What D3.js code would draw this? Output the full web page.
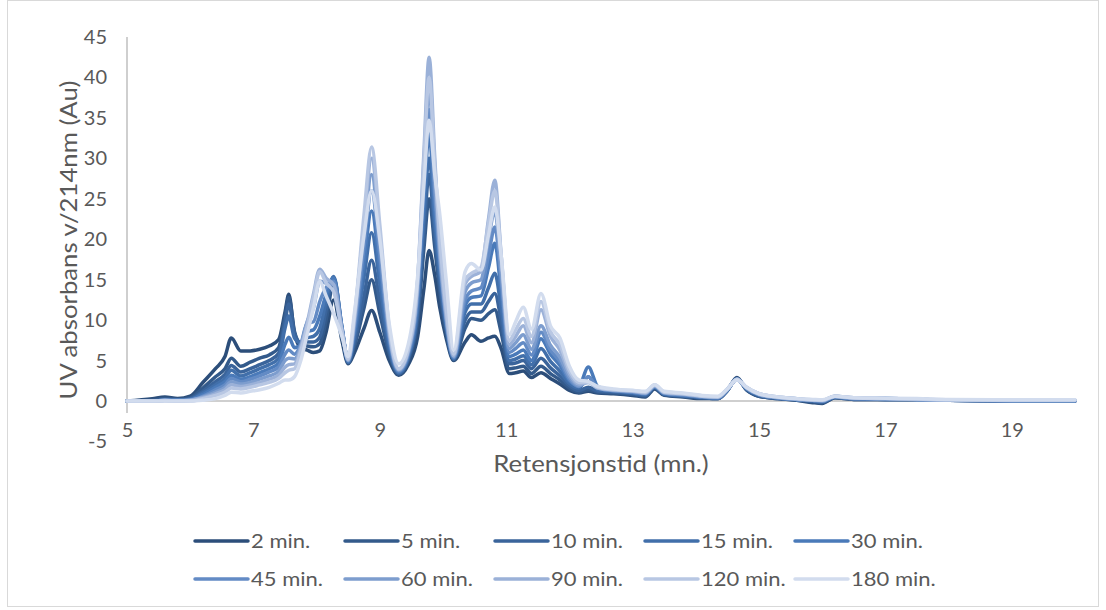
<!DOCTYPE html>
<html>
<head>
<meta charset="utf-8">
<script src="https://cdn.jsdelivr.net/npm/d3@7"></script>
<style>
  html, body { margin: 0; padding: 0; background: #ffffff; }
  svg { display: block; }
  text { font-family: Lato, "Open Sans", sans-serif; fill: #595959; }
</style>
</head>
<body>
<svg id="chart" width="1106" height="610"></svg>
<script>
// Retention times (minutes) shared by every chromatogram trace
const retention = [
  5.0, 5.4, 5.6, 5.8, 6.0, 6.2, 6.4, 6.55, 6.65, 6.8,
  6.95, 7.1, 7.25, 7.4, 7.5, 7.56, 7.65, 7.75, 7.85, 7.95,
  8.05, 8.15, 8.27, 8.4, 8.5, 8.6, 8.75, 8.87, 9.0, 9.15,
  9.3, 9.45, 9.6, 9.7, 9.78, 9.87, 9.95, 10.05, 10.17, 10.35,
  10.45, 10.6, 10.72, 10.82, 10.92, 11.05, 11.15, 11.27, 11.4, 11.55,
  11.7, 11.85, 12.0, 12.15, 12.3, 12.45, 12.7, 13.0, 13.2, 13.35,
  13.5, 13.8, 14.1, 14.35, 14.5, 14.65, 14.8, 15.0, 15.3, 15.6,
  15.85, 16.0, 16.2, 16.5, 17.0, 17.5, 18.0, 19.0, 20.0
];

// UV absorbance at 214 nm for each hydrolysis time
const min2 = [
  0, 0.3, 0.5, 0.3, 0.6, 2.3, 4.0, 5.5, 7.8, 6.2,
  6.2, 6.4, 6.8, 7.6, 11.0, 13.2, 8.3, 6.6, 6.3, 6.0,
  6.2, 8.5, 12.5, 7.5, 4.6, 6.0, 9.0, 11.2, 8.5, 5.0,
  3.2, 4.5, 8.0, 14.0, 18.6, 15.5, 11.5, 7.8, 5.0, 7.3,
  8.2, 7.4, 7.8, 8.0, 6.5, 3.4, 3.5, 3.7, 2.9, 3.5,
  2.8, 2.1, 1.3, 1.0, 1.2, 1.0, 0.9, 0.7, 0.5, 1.5,
  0.7, 0.5, 0.3, 0.3, 1.3, 2.9, 1.4, 0.6, 0.3, 0.1,
  -0.2, -0.3, 0.4, 0.2, 0.2, 0.2, 0.1, 0.0, 0.0
];
const min5 = [
  0, 0.1, 0.3, 0.2, 0.4, 1.6, 3.0, 4.0, 5.3, 4.3,
  4.8, 5.3, 5.7, 6.6, 10.5, 12.8, 8.6, 7.0, 6.8, 6.7,
  7.1, 10.0, 14.6, 8.5, 4.7, 6.8, 11.5, 15.0, 10.8, 5.8,
  3.3, 5.0, 10.0, 19.0, 25.0, 19.0, 13.5, 8.5, 5.1, 9.0,
  10.2, 10.0, 10.8, 11.3, 8.5, 4.0, 4.1, 4.3, 3.4, 4.3,
  3.4, 2.6, 1.6, 1.1, 1.4, 1.1, 1.0, 0.8, 0.6, 1.6,
  0.8, 0.6, 0.4, 0.3, 1.3, 2.8, 1.4, 0.6, 0.3, 0.1,
  -0.1, -0.2, 0.4, 0.2, 0.2, 0.2, 0.1, 0.0, 0.0
];
const min10 = [
  0, 0, 0.2, 0.1, 0.3, 1.2, 2.4, 3.3, 4.4, 3.6,
  4.0, 4.5, 5.0, 5.9, 9.8, 12.0, 8.4, 7.2, 7.3, 7.3,
  7.9, 11.2, 15.3, 9.0, 4.8, 7.3, 13.0, 17.4, 12.3, 6.2,
  3.4, 5.2, 11.0, 21.0, 28.0, 20.5, 14.5, 9.0, 5.2, 10.0,
  11.0, 11.0, 12.3, 13.3, 10.0, 4.6, 4.7, 5.0, 4.0, 5.3,
  4.1, 3.1, 1.9, 1.3, 1.7, 1.2, 1.1, 0.9, 0.7, 1.7,
  0.8, 0.6, 0.4, 0.3, 1.3, 2.8, 1.5, 0.7, 0.3, 0.2,
  0.0, -0.1, 0.5, 0.3, 0.2, 0.2, 0.1, 0.0, 0.0
];
const min15 = [
  0, 0, 0.1, 0.1, 0.2, 1.0, 2.0, 2.8, 3.8, 3.1,
  3.5, 4.0, 4.5, 5.3, 9.0, 10.5, 7.8, 7.2, 7.8, 8.0,
  9.0, 12.3, 15.4, 9.2, 4.8, 8.0, 15.3, 20.8, 14.5, 6.8,
  3.5, 5.4, 11.5, 23.0, 30.0, 22.0, 15.5, 9.3, 5.2, 11.0,
  12.0, 12.0, 14.0, 15.8, 11.5, 5.0, 5.2, 5.6, 4.5, 6.5,
  4.9, 3.7, 2.2, 1.6, 3.0, 1.4, 1.2, 1.0, 0.8, 1.7,
  0.9, 0.7, 0.5, 0.4, 1.4, 2.7, 1.5, 0.7, 0.4, 0.2,
  0.0, -0.1, 0.5, 0.3, 0.2, 0.2, 0.1, 0.05, 0.05
];
const min30 = [
  0, 0, 0.1, 0.1, 0.2, 0.8, 1.7, 2.4, 3.2, 2.7,
  3.0, 3.5, 4.0, 4.7, 7.0, 7.9, 6.6, 7.0, 8.6, 8.8,
  10.5, 13.2, 15.2, 9.2, 4.9, 8.6, 17.2, 23.5, 16.3, 7.3,
  3.6, 5.6, 12.5, 25.0, 33.0, 23.5, 16.5, 9.6, 5.3, 11.8,
  12.8, 13.0, 16.5, 19.5, 13.5, 5.5, 5.8, 6.3, 5.0, 7.7,
  5.8, 4.4, 2.5, 1.9, 4.2, 1.8, 1.3, 1.1, 0.9, 1.8,
  0.9, 0.7, 0.5, 0.4, 1.4, 2.7, 1.6, 0.8, 0.4, 0.2,
  0.1, 0.0, 0.5, 0.3, 0.3, 0.2, 0.1, 0.05, 0.05
];
const min45 = [
  0, 0, 0.1, 0.1, 0.1, 0.6, 1.4, 2.0, 2.8, 2.4,
  2.7, 3.1, 3.6, 4.2, 5.8, 6.3, 5.8, 7.0, 9.6, 9.8,
  12.3, 14.0, 14.8, 9.0, 5.0, 9.2, 19.0, 26.0, 18.0, 7.8,
  3.7, 5.8, 13.5, 27.0, 36.0, 25.5, 17.5, 10.0, 5.4, 12.5,
  13.6, 14.0, 18.0, 21.5, 15.0, 6.0, 6.5, 7.2, 5.7, 8.5,
  6.3, 4.9, 2.7, 1.8, 3.0, 1.6, 1.3, 1.1, 0.9, 1.8,
  1.0, 0.8, 0.5, 0.4, 1.4, 2.7, 1.6, 0.8, 0.4, 0.2,
  0.1, 0.0, 0.5, 0.3, 0.3, 0.2, 0.1, 0.05, 0.05
];
const min60 = [
  0, 0, 0.1, 0, 0.1, 0.5, 1.1, 1.7, 2.4, 2.1,
  2.3, 2.7, 3.1, 3.7, 5.0, 5.3, 5.2, 6.8, 9.8, 11.5,
  14.8, 14.6, 14.4, 8.8, 5.0, 9.7, 20.5, 28.0, 19.4, 8.2,
  3.8, 6.0, 14.0, 29.0, 38.5, 27.0, 18.0, 10.3, 5.5, 13.5,
  14.6, 15.0, 20.0, 23.5, 16.0, 6.5, 7.2, 8.2, 6.4, 9.3,
  6.9, 5.4, 3.0, 1.9, 2.4, 1.6, 1.3, 1.2, 1.0, 1.9,
  1.0, 0.8, 0.6, 0.5, 1.4, 2.7, 1.6, 0.8, 0.4, 0.2,
  0.1, 0.0, 0.6, 0.3, 0.3, 0.2, 0.1, 0.05, 0.05
];
const min90 = [
  0, 0, 0.1, 0, 0.1, 0.4, 0.9, 1.4, 2.0, 1.8,
  2.0, 2.3, 2.7, 3.2, 4.2, 4.5, 4.6, 6.6, 9.6, 13.2,
  16.3, 15.2, 14.4, 8.8, 5.1, 10.2, 22.0, 30.0, 20.8, 8.6,
  3.9, 6.2, 15.0, 31.0, 42.5, 30.0, 19.0, 10.6, 5.6, 14.5,
  15.4, 16.0, 22.5, 27.3, 18.0, 7.0, 8.0, 9.3, 7.2, 11.3,
  8.0, 6.3, 3.4, 2.1, 2.3, 1.6, 1.4, 1.2, 1.0, 1.9,
  1.1, 0.9, 0.6, 0.5, 1.5, 2.7, 1.7, 0.9, 0.5, 0.3,
  0.1, 0.1, 0.6, 0.4, 0.3, 0.2, 0.15, 0.1, 0.1
];
const min120 = [
  0, 0, 0, 0, 0, 0.3, 0.7, 1.1, 1.6, 1.5,
  1.7, 2.0, 2.3, 2.8, 3.5, 3.8, 4.0, 6.2, 9.2, 12.8,
  16.0, 14.6, 13.5, 8.6, 5.2, 10.5, 23.0, 31.4, 21.8, 9.0,
  4.0, 6.4, 15.0, 30.0, 40.0, 29.0, 20.0, 11.5, 5.8, 15.0,
  15.8, 16.5, 22.0, 26.0, 18.0, 7.5, 8.8, 10.2, 8.0, 12.3,
  8.6, 7.0, 3.8, 2.3, 2.3, 1.7, 1.4, 1.3, 1.1, 2.0,
  1.1, 0.9, 0.6, 0.5, 1.5, 2.7, 1.7, 0.9, 0.5, 0.3,
  0.15, 0.1, 0.6, 0.4, 0.3, 0.25, 0.15, 0.1, 0.1
];
const min180 = [
  0, 0, 0, 0, 0, 0.1, 0.3, 0.7, 1.1, 1.0,
  1.2, 1.4, 1.7, 2.2, 2.6, 2.6, 3.0, 5.0, 8.2, 11.5,
  14.8, 13.0, 10.8, 8.0, 5.5, 11.0, 20.5, 26.0, 20.0, 9.5,
  4.6, 7.0, 15.5, 27.0, 34.7, 28.0, 23.0, 15.0, 6.3, 16.0,
  17.0, 16.2, 20.5, 24.0, 18.0, 8.2, 9.8, 11.6, 8.9, 13.3,
  9.3, 7.8, 4.3, 2.6, 2.4, 1.8, 1.5, 1.3, 1.2, 2.0,
  1.2, 1.0, 0.7, 0.6, 1.5, 2.6, 1.7, 0.9, 0.5, 0.3,
  0.2, 0.15, 0.6, 0.4, 0.35, 0.3, 0.2, 0.15, 0.15
];

const seriesNames = ["2 min.", "5 min.", "10 min.", "15 min.", "30 min.",
                     "45 min.", "60 min.", "90 min.", "120 min.", "180 min."];
const seriesValues = [min2, min5, min10, min15, min30, min45, min60, min90, min120, min180];
const seriesColors = ["#2c4e7a", "#335a8b", "#3a649b", "#416faa", "#4a7ab9",
                      "#638bc5", "#7d9dce", "#9bb1d8", "#b8c7e3", "#d2dcee"];

const xTicks = [5, 7, 9, 11, 13, 15, 17, 19];
const yTicks = [-5, 0, 5, 10, 15, 20, 25, 30, 35, 40, 45];

const svg = d3.select("#chart");

const x = d3.scaleLinear().domain([5, 20]).range([127, 1075]);
const y = d3.scaleLinear().domain([-5, 45]).range([441.5, 37]);

// chart-area frame
svg.append("rect")
  .attr("x", 7.5).attr("y", 0.5)
  .attr("width", 1091).attr("height", 606)
  .attr("fill", "none").attr("stroke", "#d9d9d9").attr("stroke-width", 1);

// value axis (left); plain hyphen for negative labels
const yAxis = d3.axisLeft(y).tickValues(yTicks).tickSize(0).tickPadding(20)
  .tickFormat(d => String(d));
const gy = svg.append("g").attr("transform", "translate(127,0)").call(yAxis);
gy.select(".domain").remove();
gy.selectAll("text").style("font-size", "20px").attr("font-family", null).attr("fill", "#595959");
svg.append("line")
  .attr("x1", 127).attr("x2", 127)
  .attr("y1", y(45)).attr("y2", y(0) + 12)
  .attr("stroke", "#bfbfbf").attr("stroke-width", 1.5);

// time axis, crossing at zero
const xAxis = d3.axisBottom(x).tickValues(xTicks).tickSize(0).tickPadding(22)
  .tickFormat(d => String(d));
const gx = svg.append("g").attr("transform", `translate(0,${y(0)})`).call(xAxis);
gx.select(".domain").remove();
gx.selectAll("text").style("font-size", "20px").attr("font-family", null).attr("fill", "#595959");
svg.append("line")
  .attr("x1", x(5)).attr("x2", x(20))
  .attr("y1", y(0)).attr("y2", y(0))
  .attr("stroke", "#bfbfbf").attr("stroke-width", 1.5);

// axis titles (slightly widened lettering)
svg.append("text")
  .attr("transform", `translate(${x(12.5)},472) scale(1.12,1)`)
  .attr("text-anchor", "middle")
  .style("font-size", "23px")
  .text("Retensjonstid (mn.)");
svg.append("text")
  .attr("transform", `translate(77,240) rotate(-90) scale(1.12,1)`)
  .attr("text-anchor", "middle")
  .style("font-size", "23px")
  .text("UV absorbans v/214nm (Au)");

// traces
const line = d3.line()
  .x(d => x(d[0]))
  .y(d => y(d[1]))
  .curve(d3.curveMonotoneX);

seriesValues.forEach((vals, i) => {
  svg.append("path")
    .datum(retention.map((t, k) => [t, vals[k]]))
    .attr("fill", "none")
    .attr("stroke", seriesColors[i])
    .attr("stroke-width", 3.5)
    .attr("stroke-linejoin", "round")
    .attr("stroke-linecap", "round")
    .attr("d", line);
});

// legend: two rows of five
const legend = svg.append("g");
seriesNames.forEach((name, i) => {
  const col = i % 5, row = Math.floor(i / 5);
  const lx = 195 + col * 150;
  const ly = 541 + row * 38;
  const g = legend.append("g").attr("transform", `translate(${lx},${ly})`);
  g.append("line")
    .attr("x1", 0).attr("x2", 53).attr("y1", 0).attr("y2", 0)
    .attr("stroke", seriesColors[i]).attr("stroke-width", 3.5)
    .attr("stroke-linecap", "round");
  g.append("text")
    .attr("transform", "translate(56,0) scale(1.1,1)")
    .attr("dy", "0.35em")
    .style("font-size", "20px")
    .text(name);
});
</script>
</body>
</html>
